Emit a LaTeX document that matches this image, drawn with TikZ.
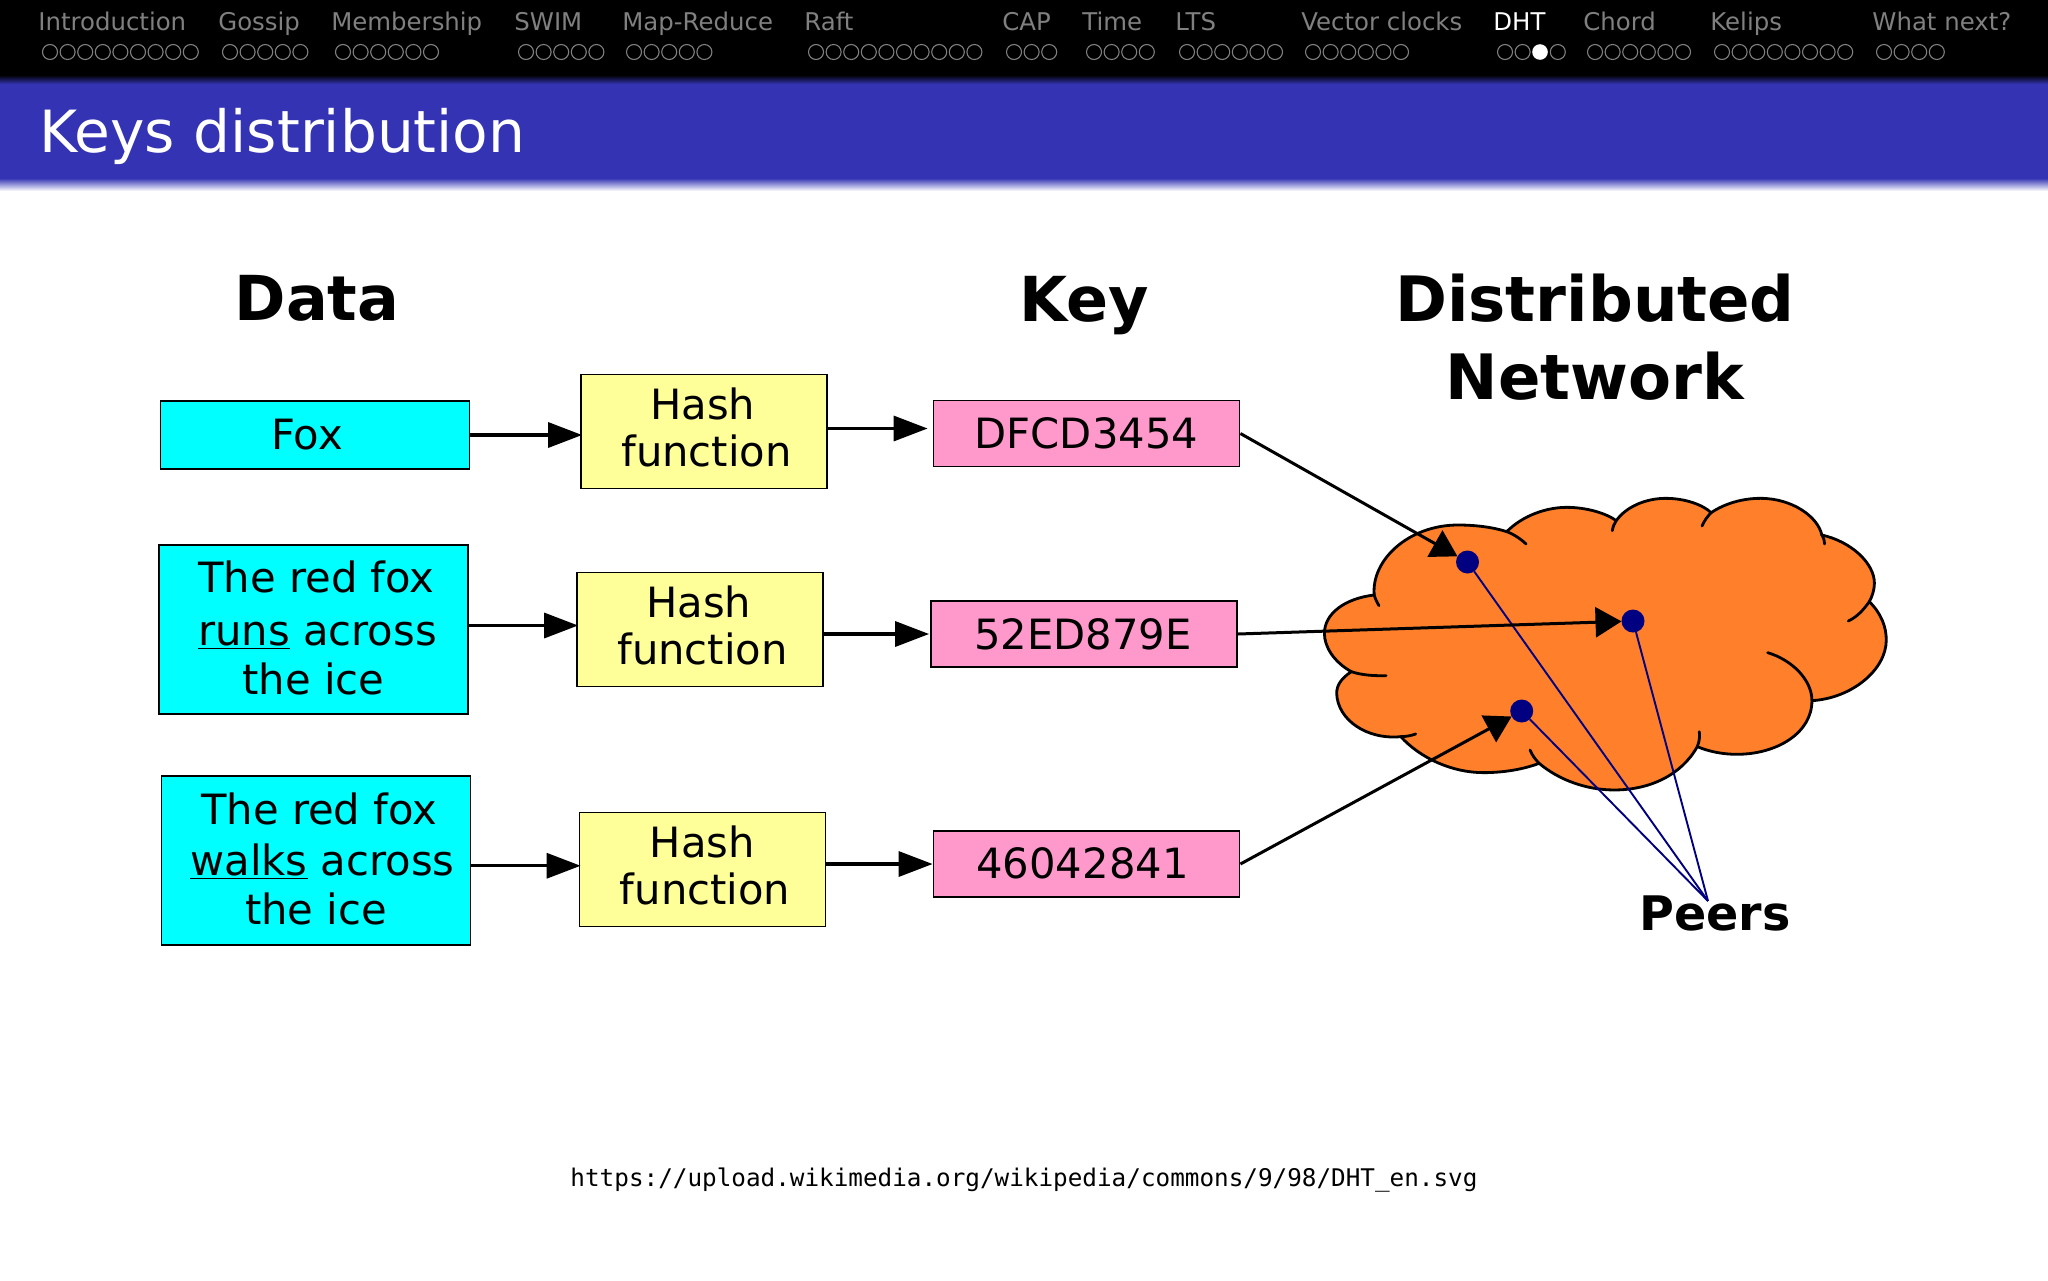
\documentclass[tikz,border=0pt]{standalone}
\usepackage{fontspec}
\setmainfont{DejaVu Sans}
\setmonofont{DejaVu Sans Mono}
\usetikzlibrary{arrows.meta,calc}
\definecolor{barblue}{HTML}{3333B3}
\definecolor{navgray}{HTML}{808080}
\definecolor{cyanbox}{HTML}{00FFFF}
\definecolor{yellowbox}{HTML}{FFFF99}
\definecolor{pinkbox}{HTML}{FF99CC}
\definecolor{cloudfill}{HTML}{FF7F2A}
\definecolor{peerblue}{HTML}{000080}
\newcommand{\xdepth}[1]{\rule[-#1]{0pt}{#1}}
\tikzset{
  navtext/.style={anchor=base west,inner sep=0pt,text=navgray,font=\fontsize{12.2}{14}\selectfont},
  navdot/.style={draw=navgray,line width=0.55pt},
  box/.style={draw=black,line width=0.9pt,inner sep=0pt,align=center,font=\fontsize{20.85}{24.5}\selectfont},
  data/.style={box,fill=cyanbox,minimum width=154.5pt},
  hash/.style={box,fill=yellowbox,minimum width=123pt,minimum height=57pt,font=\fontsize{20.85}{23.5}\selectfont},
  key/.style={box,fill=pinkbox,minimum width=153pt,minimum height=33pt},
  heading/.style={inner sep=0pt,align=center,font=\fontsize{31}{39}\selectfont\bfseries},
  flow/.style={draw=black,line width=1.7pt,-{Triangle[length=17pt,width=12.5pt]}},
  tocloud/.style={draw=black,line width=1.5pt,-{Triangle[length=13pt,width=15pt]}},
  peer/.style={circle,fill=peerblue,minimum size=11.5pt,inner sep=0pt,outer sep=0pt},
  peerline/.style={draw=peerblue,line width=0.95pt},
  cloudline/.style={draw=black,line width=1.4pt,line join=round,line cap=round},
}
\begin{document}
\begin{tikzpicture}[x=0.5pt,y=-0.5pt]
\useasboundingbox (0,0) rectangle (2048,1280);
\fill[white] (0,0) rectangle (2048,1280);
% header bars
\fill[black] (0,0) rectangle (2048,75);
\shade[top color=black,bottom color=barblue] (0,75) rectangle (2048,84);
\fill[barblue] (0,84) rectangle (2048,178);
\shade[top color=barblue,bottom color=white] (0,178) rectangle (2048,191);
% navigation
\foreach \t/\x/\n [count=\i] in {Introduction/38/9,Gossip/218/5,Membership/331/6,SWIM/514/5,Map-Reduce/622/5,Raft/804/10,CAP/1002/3,Time/1082/4,LTS/1175/6,{Vector clocks}/1301/6,Chord/1583/6,Kelips/1710/8,{What next?}/1872/4}{
  \node[navtext] (nav\i) at (\x,30) {\t};
  \foreach \k in {1,...,\n}
    \draw[navdot] ({\x+12+17.6*(\k-1)},52) circle[radius=3.75pt];
}
\node[navtext,text=white] (navdht) at (1493,30) {DHT};
\foreach \k in {1,2,4}
  \draw[navdot] ({1505+17.6*(\k-1)},52) circle[radius=3.75pt];
\fill[white] (1540,52) circle[radius=3.9pt];
% title
\node[anchor=base west,inner sep=0pt,text=white,font=\fontsize{29.1}{34}\selectfont] (title) at (39,152) {Keys distribution};
% headings
\node[heading,anchor=base] (hdata) at (317,320) {Data};
\node[heading,anchor=base] (hkey) at (1084,321) {Key};
\node[heading,font=\fontsize{31.3}{39}\selectfont\bfseries] (hnet) at (1595,337) {Distributed\\Network};
% boxes
\node[data,minimum height=34pt] (fox) at (315,435) {Fox\kern8pt};
\node[data,minimum height=84.5pt] (runs) at (313.5,629.5) {\kern3pt The red fox\\[2pt]\kern4pt\underline{runs} across\\the ice\xdepth{2pt}};
\node[data,minimum height=84.5pt] (walks) at (316,860.75) {\kern3.3pt The red fox\\[1pt]\kern6.5pt\underline{walks} across\\the ice\xdepth{2.5pt}};
\node[hash] (h1) at (704,431.5) {Hash\kern1.3pt\\\kern2.6pt function\xdepth{4.5pt}};
\node[hash] (h2) at (700,629.5) {Hash\kern1.3pt\\\kern2.6pt function\xdepth{4.5pt}};
\node[hash] (h3) at (702.5,869.5) {Hash\\\kern2.6pt function\xdepth{4.5pt}};
\node[key] (k1) at (1086.5,433.5) {DFCD3454};
\node[key] (k2) at (1084,634) {52ED879E\kern1pt};
\node[key] (k3) at (1086.5,864) {46042841\kern4pt\xdepth{1pt}};
% cloud
\begin{scope}[shift={(1290,470)},xscale=0.3954,yscale=0.3333]
\path[fill=cloudfill,cloudline]
  (213,375) .. controls (205,270) and (300,165) .. (425,165) .. controls (470,165) and (515,172) .. (548,185)
  .. controls (590,135) and (650,112) .. (700,112) .. controls (750,112) and (800,130) .. (825,152)
  .. controls (850,110) and (900,85) .. (950,85) .. controls (1000,85) and (1045,105) .. (1065,128)
  .. controls (1100,100) and (1145,85) .. (1190,85) .. controls (1270,85) and (1335,140) .. (1345,195)
  .. controls (1420,215) and (1478,280) .. (1478,340) .. controls (1478,360) and (1472,380) .. (1465,395)
  .. controls (1495,430) and (1508,470) .. (1508,510) .. controls (1508,600) and (1420,685) .. (1320,692)
  .. controls (1320,790) and (1230,853) .. (1130,853) .. controls (1095,853) and (1060,845) .. (1030,830)
  .. controls (990,915) and (910,960) .. (820,960) .. controls (750,960) and (680,930) .. (630,880)
  .. controls (590,898) and (540,908) .. (490,908) .. controls (410,908) and (330,865) .. (280,800)
  .. controls (195,810) and (120,750) .. (118,670) .. controls (118,645) and (130,625) .. (155,605)
  .. controls (110,575) and (87,530) .. (87,490) .. controls (87,430) and (140,385) .. (213,375)
  -- cycle;
\draw[cloudline] (548,185) .. controls (565,192) and (585,208) .. (597,222);
\draw[cloudline] (825,152) .. controls (820,160) and (817,170) .. (815,182);
\draw[cloudline] (1065,128) .. controls (1055,140) and (1048,152) .. (1042,168);
\draw[cloudline] (1345,195) .. controls (1350,205) and (1352,213) .. (1352,222);
\draw[cloudline] (1465,395) .. controls (1450,420) and (1435,440) .. (1412,453);
\draw[cloudline] (1208,548) .. controls (1270,570) and (1320,630) .. (1320,692);
\draw[cloudline] (1030,830) .. controls (1035,815) and (1037,800) .. (1035,785);
\draw[cloudline] (630,880) .. controls (620,868) and (612,855) .. (607,840);
\draw[cloudline] (280,800) .. controls (293,800) and (306,797) .. (318,792);
\draw[cloudline] (155,605) .. controls (180,615) and (210,618) .. (243,617);
\draw[cloudline] (213,375) .. controls (215,385) and (220,397) .. (225,407);
\end{scope}
% peers
\node[peer] (p1) at (1467.5,562) {};
\node[peer] (p2) at (1633,621) {};
\node[peer] (p3) at (1521.7,711) {};
\node[anchor=base west,inner sep=0pt,font=\fontsize{23.8}{28}\selectfont\bfseries] (peers) at (1639,930) {Peers};
\coordinate (conv) at (1708,901);
\draw[peerline] (p1) -- (conv);
\draw[peerline] (p2) -- (conv);
\draw[peerline] (p3) -- (conv);
% arrows
\draw[flow,shorten >=-1pt] (fox.east) -- (fox.east -| h1.west);
\draw[flow,shorten >=2.5pt] ([yshift=1.5pt]h1.east) -- ([yshift=1.5pt]h1.east -| k1.west);
\draw[flow,shorten >=-1pt] ([yshift=2pt]runs.east) -- ([yshift=2pt]runs.east -| h2.west);
\draw[flow,shorten >=0.5pt] (h2.east |- k2.west) -- (k2.west);
\draw[flow,shorten >=-1pt] ([yshift=-2.5pt]walks.east) -- ([yshift=-2.5pt]walks.east -| h3.west);
\draw[flow] (h3.east |- k3.west) -- (k3.west);
\draw[tocloud] (k1.east) -- (p1);
\draw[tocloud] (k2.east) -- (p2);
\draw[tocloud] (k3.east) -- (p3);
% source
\node[inner sep=0pt,anchor=base,font=\fontsize{12.15}{14}\selectfont\ttfamily] (src) at (1024,1186) {https://upload.wikimedia.org/wikipedia/commons/9/98/DHT\_en.svg};
\end{tikzpicture}
\end{document}
